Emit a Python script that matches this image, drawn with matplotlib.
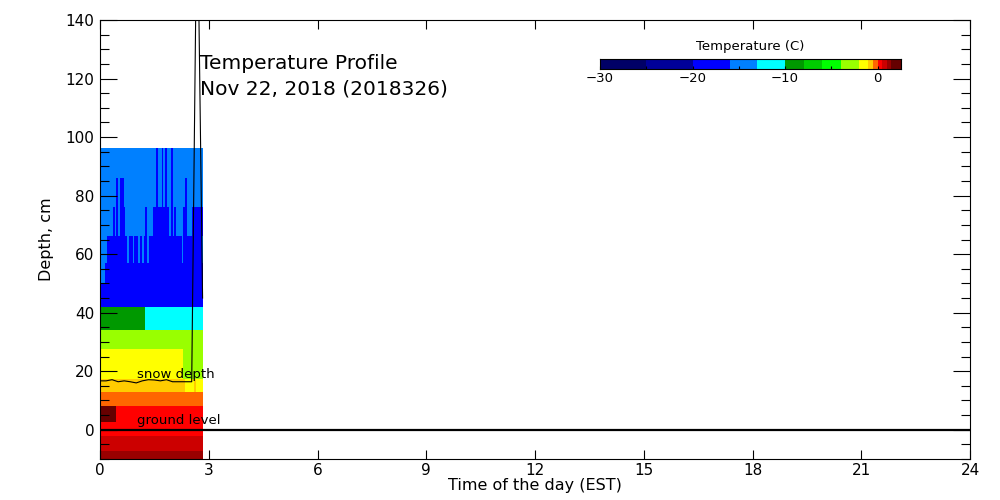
import numpy as np
import matplotlib.pyplot as plt
from matplotlib.colors import ListedColormap, BoundaryNorm
from matplotlib.ticker import MultipleLocator

# colour scale (deg C)
temp_bounds = [-30, -25, -20, -16, -13, -10, -8, -6, -4, -2, -1, -0.5, 0, 0.5, 1, 1.5, 2.5]
temp_colors = ["#000066", "#000099", "#0000ff", "#0080ff", "#00ffff", "#009900",
               "#00cc00", "#00ff00", "#99ff00", "#ffff00", "#ffcc00", "#ff6600",
               "#ff0000", "#cc0000", "#990000", "#660000"]

# sensor layers, edges in cm (top -> bottom)
layer_edges = [96.4, 86.0, 76.1, 66.2, 57.0, 49.8, 42.1, 34.1, 27.7,
               17.4, 12.9, 8.0, 2.5, -2.3, -7.4, -15.0]

# 3-minute scans since midnight
scan_step = 0.05  # hours
n_scans = 57

# temperatures per layer, as (value, number of scans) runs
B, L = -18.0, -14.5
layer_runs = [
    [(L, 31), (B, 1), (L, 2), (B, 1), (L, 1), (B, 1), (L, 2), (B, 1), (L, 17)],
    [(L, 9), (B, 1), (L, 1), (B, 2), (L, 18), (B, 1), (L, 2), (B, 1), (L, 1),
     (B, 1), (L, 2), (B, 1), (L, 7), (B, 1), (L, 9)],
    [(L, 7), (B, 1), (L, 1), (B, 1), (L, 1), (B, 3), (L, 11), (B, 1), (L, 3),
     (B, 9), (L, 1), (B, 1), (L, 1), (B, 1), (L, 4), (B, 2), (L, 3), (B, 6)],
    [(L, 4), (B, 11), (L, 1), (B, 2), (L, 1), (B, 2), (L, 1), (B, 1), (L, 1),
     (B, 2), (L, 1), (B, 18), (L, 1), (B, 10), (L, 1)],
    [(L, 3), (B, 54)],
    [(B, 57)],
    [(-9.0, 25), (-11.0, 32)],
    [(-3.0, 57)],
    [(-1.5, 46), (-3.0, 11)],
    [(-0.7, 47), (-1.5, 5), (-0.7, 1), (-1.5, 4)],
    [(-0.2, 57)],
    [(2.0, 9), (0.2, 48)],
    [(0.2, 57)],
    [(0.7, 57)],
    [(1.2, 57)],
]

# snow depth, 10-minute samples
snow_times = [0.0, 0.167, 0.333, 0.5, 0.667, 0.833, 1.0, 1.167, 1.333, 1.5,
              1.667, 1.833, 2.0, 2.167, 2.333, 2.53, 2.68, 2.83]
snow_depth = [16.7, 16.7, 17.1, 16.4, 16.7, 16.4, 16.0, 16.7, 17.1, 17.0,
              16.7, 17.1, 16.4, 16.4, 16.4, 16.4, 188.0, 45.0]

temps = np.array([np.repeat([v for v, n in runs], [n for v, n in runs])
                  for runs in layer_runs])
x_edges = np.arange(n_scans + 1) * scan_step

cmap = ListedColormap(temp_colors)
norm = BoundaryNorm(temp_bounds, cmap.N)

fig = plt.figure(figsize=(10, 5), dpi=100)
ax = fig.add_axes([0.1, 0.082, 0.87, 0.878])

ax.pcolormesh(x_edges, layer_edges, temps, cmap=cmap, norm=norm)
ax.plot(snow_times, snow_depth, color="black", lw=0.8)
ax.axhline(0, color="black", lw=1.6)

ax.text(1.02, 17.6, "snow depth", fontsize=9.5, va="baseline")
ax.text(1.02, 2.0, "ground level", fontsize=9.5, va="baseline")
ax.text(2.76, 125.3, "Temperature Profile", fontsize=14.5, va="center")
ax.text(2.76, 116.3, "Nov 22, 2018 (2018326)", fontsize=14.5, va="center")

ax.set_xlim(0, 24)
ax.set_ylim(-10, 140)
ax.xaxis.set_major_locator(MultipleLocator(3))
ax.yaxis.set_major_locator(MultipleLocator(20))
ax.yaxis.set_minor_locator(MultipleLocator(5))
ax.tick_params(axis="both", which="both", direction="in", top=True, right=True,
               labelsize=11, width=0.8)
ax.tick_params(axis="x", which="major", length=6.5, pad=3)
ax.tick_params(axis="y", which="major", length=12, pad=4)
ax.tick_params(axis="y", which="minor", length=6.5)
for s in ax.spines.values():
    s.set_linewidth(0.8)
ax.set_xlabel("Time of the day (EST)", fontsize=11.5, labelpad=0)
ax.set_ylabel("Depth, cm", fontsize=11.5, labelpad=8)

# colour bar
cax = fig.add_axes([0.6, 0.8614, 0.3007, 0.02])
mids = np.array(temp_bounds[:-1]) + np.diff(temp_bounds) / 2
cax.pcolormesh(temp_bounds, [0, 1], mids[np.newaxis, :], cmap=cmap, norm=norm)
cax.set_xlim(-30, 2.5)
cax.set_yticks([])
cax.set_xticks([-30, -20, -10, 0])
cax.xaxis.set_minor_locator(MultipleLocator(5))
cax.tick_params(axis="x", which="both", direction="in", length=2.5, width=0.8,
                labelsize=9.5, pad=2)
for s in cax.spines.values():
    s.set_linewidth(0.8)
cax.set_title("Temperature (C)", fontsize=9.5, pad=7)

fig.savefig("out.png", dpi=100)
